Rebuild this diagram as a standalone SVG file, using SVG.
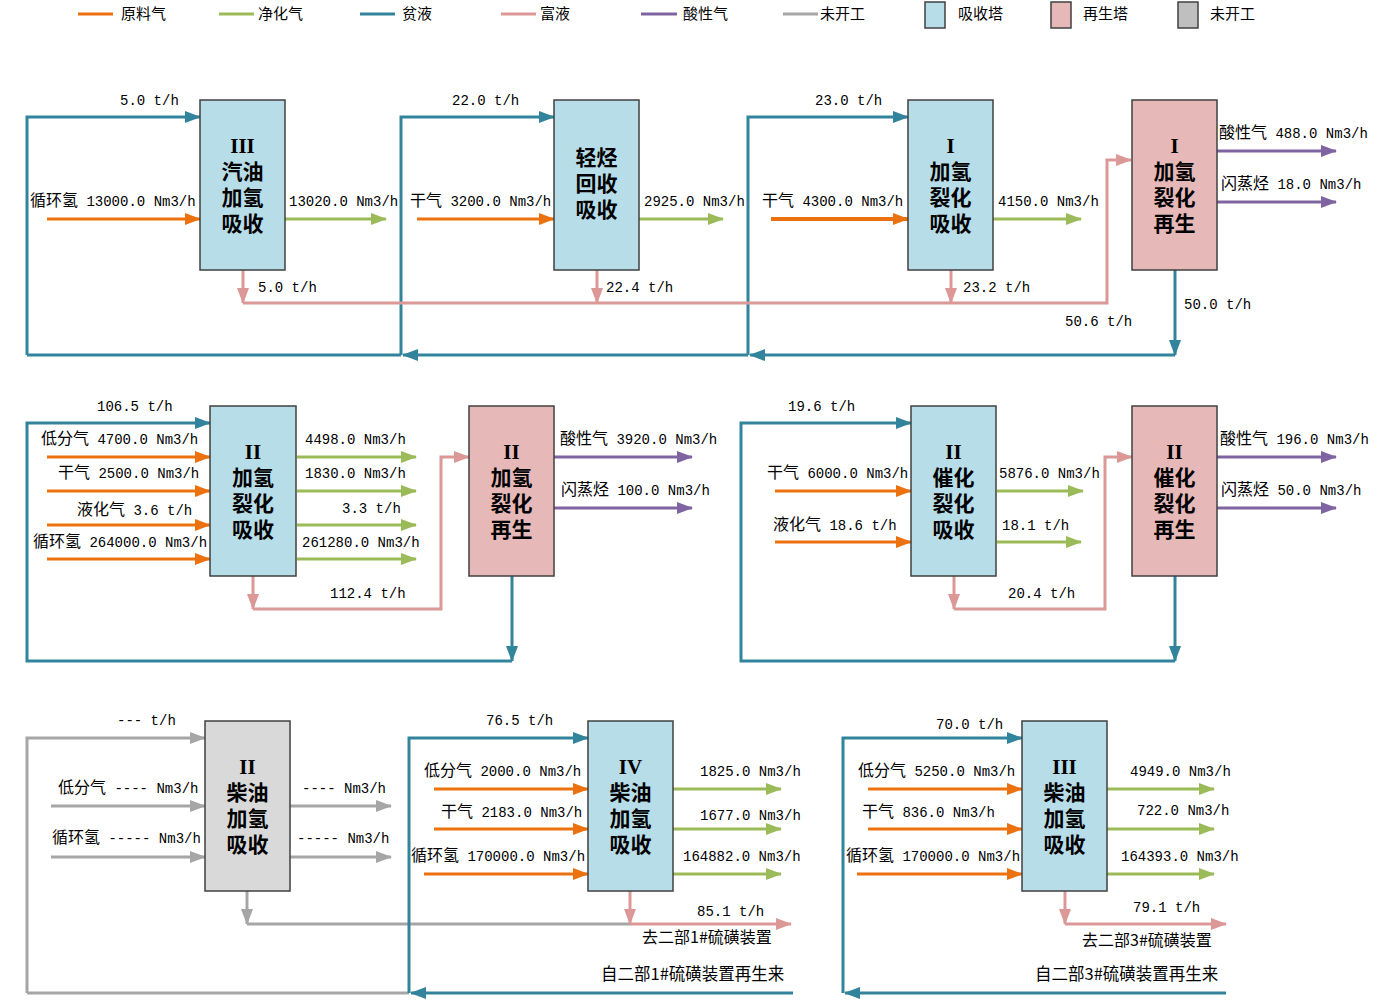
<svg xmlns="http://www.w3.org/2000/svg" width="1400" height="1000" viewBox="0 0 1400 1000">
<style>
.t{font-family:"Liberation Mono","Noto Sans CJK SC",monospace;font-size:14px;fill:#000}
.c{font-family:"Noto Sans CJK SC",sans-serif;font-size:16px}
.lg{font-family:"Noto Sans CJK SC",sans-serif;font-size:15px;fill:#000}
.bx{font-family:"Liberation Serif","Noto Sans CJK SC",serif;font-size:21px;font-weight:bold;fill:#000;text-anchor:middle}
.ab{fill:#b7dde8;stroke:#404040;stroke-width:1.5}
.rg{fill:#e6b9b8;stroke:#404040;stroke-width:1.5}
.ng{fill:#d9d9d9;stroke:#404040;stroke-width:1.5}
.o{stroke:#eb720f}
.g{stroke:#9bbb59}
.b{stroke:#31849b}
.p{stroke:#dc9896}
.v{stroke:#8064a2}
.y{stroke:#a6a6a6}
.o,.g,.b,.p,.v,.y{fill:none;stroke-width:3}
</style>
<defs>
<marker id="mo" markerUnits="userSpaceOnUse" markerWidth="16" markerHeight="14" refX="15" refY="7" orient="auto"><path d="M0,1 L16,7 L0,13 z" fill="#eb720f"/></marker>
<marker id="mg" markerUnits="userSpaceOnUse" markerWidth="16" markerHeight="14" refX="15" refY="7" orient="auto"><path d="M0,1 L16,7 L0,13 z" fill="#9bbb59"/></marker>
<marker id="mb" markerUnits="userSpaceOnUse" markerWidth="16" markerHeight="14" refX="15" refY="7" orient="auto"><path d="M0,1 L16,7 L0,13 z" fill="#31849b"/></marker>
<marker id="mp" markerUnits="userSpaceOnUse" markerWidth="16" markerHeight="14" refX="15" refY="7" orient="auto"><path d="M0,1 L16,7 L0,13 z" fill="#dc9896"/></marker>
<marker id="mv" markerUnits="userSpaceOnUse" markerWidth="16" markerHeight="14" refX="15" refY="7" orient="auto"><path d="M0,1 L16,7 L0,13 z" fill="#8064a2"/></marker>
<marker id="my" markerUnits="userSpaceOnUse" markerWidth="16" markerHeight="14" refX="15" refY="7" orient="auto"><path d="M0,1 L16,7 L0,13 z" fill="#a6a6a6"/></marker>
</defs>
<rect width="1400" height="1000" fill="#fff"/>

<g id="legend">
<line x1="78" y1="14" x2="113" y2="14" class="o"/><text x="121" y="19" class="lg">原料气</text>
<line x1="219" y1="14" x2="254" y2="14" class="g"/><text x="258" y="19" class="lg">净化气</text>
<line x1="360" y1="14" x2="395" y2="14" class="b"/><text x="402" y="19" class="lg">贫液</text>
<line x1="501" y1="14" x2="536" y2="14" class="p"/><text x="540" y="19" class="lg">富液</text>
<line x1="641" y1="14" x2="677" y2="14" class="v"/><text x="683" y="19" class="lg">酸性气</text>
<line x1="783" y1="14" x2="818" y2="14" class="y"/><text x="820" y="19" class="lg">未开工</text>
<rect x="925" y="2" width="20" height="26" class="ab"/><text x="958" y="19" class="lg">吸收塔</text>
<rect x="1051" y="2" width="20" height="26" class="rg"/><text x="1083" y="19" class="lg">再生塔</text>
<rect x="1178" y="2" width="20" height="26" class="ng" style="fill:#bfbfbf"/><text x="1210" y="19" class="lg">未开工</text>
</g>

<g id="connectors">
<path d="M27,355 V117 H200" class="b" marker-end="url(#mb)"/>
<path d="M401,355 V117 H554" class="b" marker-end="url(#mb)"/>
<path d="M748,355 V117 H908" class="b" marker-end="url(#mb)"/>
<path d="M1175,270 V355" class="b" marker-end="url(#mb)"/>
<path d="M1175,355 H750" class="b" marker-end="url(#mb)"/>
<path d="M748,355 H403" class="b" marker-end="url(#mb)"/>
<path d="M401,355 H27" class="b"/>
<path d="M47,219 H200" class="o" marker-end="url(#mo)"/>
<path d="M417,219 H554" class="o" marker-end="url(#mo)"/>
<path d="M771,219 H908" class="o" style="stroke-width:4" marker-end="url(#mo)"/>
<path d="M285,219 H386" class="g" marker-end="url(#mg)"/>
<path d="M639,219 H723" class="g" marker-end="url(#mg)"/>
<path d="M993,219 H1081" class="g" marker-end="url(#mg)"/>
<path d="M243,270 V303" class="p" marker-end="url(#mp)"/>
<path d="M597,270 V303" class="p" marker-end="url(#mp)"/>
<path d="M951,270 V303" class="p" marker-end="url(#mp)"/>
<path d="M243,303 H1107 V160 H1131" class="p" marker-end="url(#mp)"/>
<path d="M1217,151 H1336" class="v" marker-end="url(#mv)"/>
<path d="M1217,202 H1336" class="v" marker-end="url(#mv)"/>
<path d="M512,576 V661" class="b" marker-end="url(#mb)"/>
<path d="M512,661 H27 V423 H210" class="b" marker-end="url(#mb)"/>
<path d="M47,457 H210" class="o" marker-end="url(#mo)"/>
<path d="M47,491 H210" class="o" marker-end="url(#mo)"/>
<path d="M47,525 H210" class="o" marker-end="url(#mo)"/>
<path d="M47,559 H210" class="o" marker-end="url(#mo)"/>
<path d="M297,457 H416" class="g" marker-end="url(#mg)"/>
<path d="M297,491 H416" class="g" marker-end="url(#mg)"/>
<path d="M297,525 H416" class="g" marker-end="url(#mg)"/>
<path d="M297,559 H416" class="g" marker-end="url(#mg)"/>
<path d="M253,576 V609" class="p" marker-end="url(#mp)"/>
<path d="M253,609 H441 V457 H469" class="p" marker-end="url(#mp)"/>
<path d="M554,457 H692" class="v" marker-end="url(#mv)"/>
<path d="M554,508 H692" class="v" marker-end="url(#mv)"/>
<path d="M1175,576 V661" class="b" marker-end="url(#mb)"/>
<path d="M1175,661 H741 V423 H911" class="b" marker-end="url(#mb)"/>
<path d="M775,491 H911" class="o" marker-end="url(#mo)"/>
<path d="M775,542 H911" class="o" marker-end="url(#mo)"/>
<path d="M997,491 H1083" class="g" marker-end="url(#mg)"/>
<path d="M997,542 H1081" class="g" marker-end="url(#mg)"/>
<path d="M954,576 V609" class="p" marker-end="url(#mp)"/>
<path d="M954,609 H1105 V457 H1132" class="p" marker-end="url(#mp)"/>
<path d="M1217,457 H1336" class="v" marker-end="url(#mv)"/>
<path d="M1217,508 H1336" class="v" marker-end="url(#mv)"/>
<path d="M27,993 V738 H205" class="y" marker-end="url(#my)"/>
<path d="M27,993 H409" class="y"/>
<path d="M51,806 H205" class="y" marker-end="url(#my)"/>
<path d="M51,857 H205" class="y" marker-end="url(#my)"/>
<path d="M290,806 H391" class="y" marker-end="url(#my)"/>
<path d="M290,857 H391" class="y" marker-end="url(#my)"/>
<path d="M247,891 V924" class="y" marker-end="url(#my)"/>
<path d="M247,924 H630" class="y"/>
<path d="M409,993 V738 H588" class="b" marker-end="url(#mb)"/>
<path d="M793,993 H411" class="b" marker-end="url(#mb)"/>
<path d="M434,789 H588" class="o" marker-end="url(#mo)"/>
<path d="M434,829 H588" class="o" marker-end="url(#mo)"/>
<path d="M424,874 H588" class="o" marker-end="url(#mo)"/>
<path d="M673,789 H781" class="g" marker-end="url(#mg)"/>
<path d="M673,829 H781" class="g" marker-end="url(#mg)"/>
<path d="M673,874 H781" class="g" marker-end="url(#mg)"/>
<path d="M630,891 V924" class="p" marker-end="url(#mp)"/>
<path d="M630,924 H791" class="p" marker-end="url(#mp)"/>
<path d="M843,993 V738 H1022" class="b" marker-end="url(#mb)"/>
<path d="M1226,993 H845" class="b" marker-end="url(#mb)"/>
<path d="M868,789 H1022" class="o" marker-end="url(#mo)"/>
<path d="M868,829 H1022" class="o" marker-end="url(#mo)"/>
<path d="M857,874 H1022" class="o" marker-end="url(#mo)"/>
<path d="M1107,789 H1214" class="g" marker-end="url(#mg)"/>
<path d="M1107,829 H1214" class="g" marker-end="url(#mg)"/>
<path d="M1107,874 H1214" class="g" marker-end="url(#mg)"/>
<path d="M1065,891 V924" class="p" marker-end="url(#mp)"/>
<path d="M1065,924 H1226" class="p" marker-end="url(#mp)"/>
</g>

<g id="labels">
<text x="120" y="105" class="t">5.0 t/h</text>
<text x="452" y="105" class="t">22.0 t/h</text>
<text x="815" y="105" class="t">23.0 t/h</text>
<text x="30" y="206" class="t"><tspan class="c">循环氢</tspan> 13000.0 Nm3/h</text>
<text x="289" y="206" class="t">13020.0 Nm3/h</text>
<text x="410" y="206" class="t"><tspan class="c">干气</tspan> 3200.0 Nm3/h</text>
<text x="644" y="206" class="t">2925.0 Nm3/h</text>
<text x="762" y="206" class="t"><tspan class="c">干气</tspan> 4300.0 Nm3/h</text>
<text x="998" y="206" class="t">4150.0 Nm3/h</text>
<text x="258" y="292" class="t">5.0 t/h</text>
<text x="606" y="292" class="t">22.4 t/h</text>
<text x="963" y="292" class="t">23.2 t/h</text>
<text x="1065" y="326" class="t">50.6 t/h</text>
<text x="1184" y="309" class="t">50.0 t/h</text>
<text x="1219" y="138" class="t"><tspan class="c">酸性气</tspan> 488.0 Nm3/h</text>
<text x="1221" y="189" class="t"><tspan class="c">闪蒸烃</tspan> 18.0 Nm3/h</text>

<text x="97" y="411" class="t">106.5 t/h</text>
<text x="41" y="444" class="t"><tspan class="c">低分气</tspan> 4700.0 Nm3/h</text>
<text x="58" y="478" class="t"><tspan class="c">干气</tspan> 2500.0 Nm3/h</text>
<text x="77" y="515" class="t"><tspan class="c">液化气</tspan> 3.6 t/h</text>
<text x="33" y="547" class="t"><tspan class="c">循环氢</tspan> 264000.0 Nm3/h</text>
<text x="305" y="444" class="t">4498.0 Nm3/h</text>
<text x="305" y="478" class="t">1830.0 Nm3/h</text>
<text x="342" y="513" class="t">3.3 t/h</text>
<text x="302" y="547" class="t">261280.0 Nm3/h</text>
<text x="330" y="598" class="t">112.4 t/h</text>
<text x="560" y="444" class="t"><tspan class="c">酸性气</tspan> 3920.0 Nm3/h</text>
<text x="561" y="495" class="t"><tspan class="c">闪蒸烃</tspan> 100.0 Nm3/h</text>

<text x="788" y="411" class="t">19.6 t/h</text>
<text x="767" y="478" class="t"><tspan class="c">干气</tspan> 6000.0 Nm3/h</text>
<text x="773" y="530" class="t"><tspan class="c">液化气</tspan> 18.6 t/h</text>
<text x="999" y="478" class="t">5876.0 Nm3/h</text>
<text x="1002" y="530" class="t">18.1 t/h</text>
<text x="1008" y="598" class="t">20.4 t/h</text>
<text x="1220" y="444" class="t"><tspan class="c">酸性气</tspan> 196.0 Nm3/h</text>
<text x="1221" y="495" class="t"><tspan class="c">闪蒸烃</tspan> 50.0 Nm3/h</text>

<text x="117" y="725" class="t">--- t/h</text>
<text x="58" y="793" class="t"><tspan class="c">低分气</tspan> ---- Nm3/h</text>
<text x="52" y="843" class="t"><tspan class="c">循环氢</tspan> ----- Nm3/h</text>
<text x="302" y="793" class="t">---- Nm3/h</text>
<text x="297" y="843" class="t">----- Nm3/h</text>

<text x="486" y="725" class="t">76.5 t/h</text>
<text x="424" y="776" class="t"><tspan class="c">低分气</tspan> 2000.0 Nm3/h</text>
<text x="441" y="817" class="t"><tspan class="c">干气</tspan> 2183.0 Nm3/h</text>
<text x="411" y="861" class="t"><tspan class="c">循环氢</tspan> 170000.0 Nm3/h</text>
<text x="700" y="776" class="t">1825.0 Nm3/h</text>
<text x="700" y="820" class="t">1677.0 Nm3/h</text>
<text x="683" y="861" class="t">164882.0 Nm3/h</text>
<text x="697" y="916" class="t">85.1 t/h</text>
<text x="642" y="943" class="c">去二部1#硫磺装置</text>
<text x="601" y="980" class="c" style="font-size:16.5px">自二部1#硫磺装置再生来</text>

<text x="936" y="729" class="t">70.0 t/h</text>
<text x="858" y="776" class="t"><tspan class="c">低分气</tspan> 5250.0 Nm3/h</text>
<text x="862" y="817" class="t"><tspan class="c">干气</tspan> 836.0 Nm3/h</text>
<text x="846" y="861" class="t"><tspan class="c">循环氢</tspan> 170000.0 Nm3/h</text>
<text x="1130" y="776" class="t">4949.0 Nm3/h</text>
<text x="1137" y="815" class="t">722.0 Nm3/h</text>
<text x="1121" y="861" class="t">164393.0 Nm3/h</text>
<text x="1133" y="912" class="t">79.1 t/h</text>
<text x="1082" y="946" class="c">去二部3#硫磺装置</text>
<text x="1035" y="980" class="c" style="font-size:16.5px">自二部3#硫磺装置再生来</text>
</g>

<g id="abs-gasoline3">
<rect x="200" y="100" width="85" height="170" class="ab"/>
<text x="242.5" y="153" class="bx">III</text><text x="242.5" y="179" class="bx">汽油</text><text x="242.5" y="205" class="bx">加氢</text><text x="242.5" y="231" class="bx">吸收</text>
</g>
<g id="abs-lighthc">
<rect x="554" y="100" width="85" height="170" class="ab"/>
<text x="596.5" y="165" class="bx">轻烃</text><text x="596.5" y="191" class="bx">回收</text><text x="596.5" y="217" class="bx">吸收</text>
</g>
<g id="abs-hc1">
<rect x="908" y="100" width="85" height="170" class="ab"/>
<text x="950.5" y="153" class="bx">I</text><text x="950.5" y="179" class="bx">加氢</text><text x="950.5" y="205" class="bx">裂化</text><text x="950.5" y="231" class="bx">吸收</text>
</g>
<g id="reg-hc1">
<rect x="1132" y="100" width="85" height="170" class="rg"/>
<text x="1174.5" y="153" class="bx">I</text><text x="1174.5" y="179" class="bx">加氢</text><text x="1174.5" y="205" class="bx">裂化</text><text x="1174.5" y="231" class="bx">再生</text>
</g>
<g id="abs-hc2">
<rect x="210" y="406" width="86" height="170" class="ab"/>
<text x="253" y="459" class="bx">II</text><text x="253" y="485" class="bx">加氢</text><text x="253" y="511" class="bx">裂化</text><text x="253" y="537" class="bx">吸收</text>
</g>
<g id="reg-hc2">
<rect x="469" y="406" width="85" height="170" class="rg"/>
<text x="511.5" y="459" class="bx">II</text><text x="511.5" y="485" class="bx">加氢</text><text x="511.5" y="511" class="bx">裂化</text><text x="511.5" y="537" class="bx">再生</text>
</g>
<g id="abs-fcc2">
<rect x="911" y="406" width="85" height="170" class="ab"/>
<text x="953.5" y="459" class="bx">II</text><text x="953.5" y="485" class="bx">催化</text><text x="953.5" y="511" class="bx">裂化</text><text x="953.5" y="537" class="bx">吸收</text>
</g>
<g id="reg-fcc2">
<rect x="1132" y="406" width="85" height="170" class="rg"/>
<text x="1174.5" y="459" class="bx">II</text><text x="1174.5" y="485" class="bx">催化</text><text x="1174.5" y="511" class="bx">裂化</text><text x="1174.5" y="537" class="bx">再生</text>
</g>
<g id="abs-diesel2">
<rect x="205" y="721" width="85" height="170" class="ng"/>
<text x="247.5" y="774" class="bx">II</text><text x="247.5" y="800" class="bx">柴油</text><text x="247.5" y="826" class="bx">加氢</text><text x="247.5" y="852" class="bx">吸收</text>
</g>
<g id="abs-diesel4">
<rect x="588" y="721" width="85" height="170" class="ab"/>
<text x="630.5" y="774" class="bx">IV</text><text x="630.5" y="800" class="bx">柴油</text><text x="630.5" y="826" class="bx">加氢</text><text x="630.5" y="852" class="bx">吸收</text>
</g>
<g id="abs-diesel3">
<rect x="1022" y="721" width="85" height="170" class="ab"/>
<text x="1064.5" y="774" class="bx">III</text><text x="1064.5" y="800" class="bx">柴油</text><text x="1064.5" y="826" class="bx">加氢</text><text x="1064.5" y="852" class="bx">吸收</text>
</g>
</svg>
